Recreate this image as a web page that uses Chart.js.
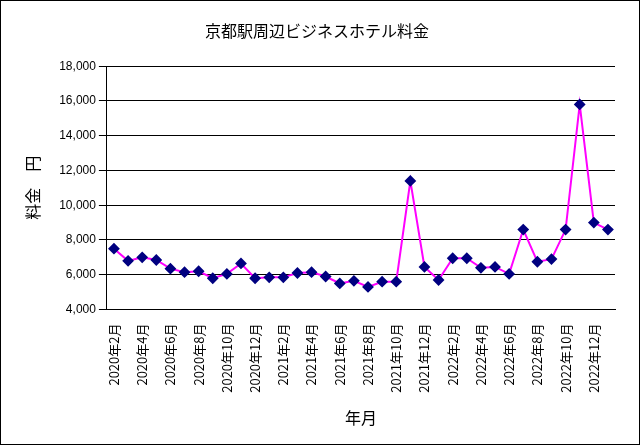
<!DOCTYPE html>
<html><head><meta charset="utf-8">
<script src="https://cdn.jsdelivr.net/npm/chart.js@4"></script>
<style>body{margin:0;background:#fff}#w{position:absolute;left:0;top:0;width:638px;height:443px;border:1px solid #000}</style>
</head><body><div id="w"><canvas id="c" width="638" height="443"></canvas></div>
<script>
const categories=[];
const years=[2020,2021,2022,2023];
for(let y of years)for(let m=1;m<=12;m++){if((y===2020&&m<2)||(y===2023&&m>1))continue;categories.push(y+'年'+m+'月');}
const prices=[7500,6800,7000,6850,6350,6150,6200,5800,6050,6650,5800,5850,5850,6100,6150,5900,5500,5650,5300,5600,5600,11400,6450,5700,6950,6950,6400,6450,6050,8600,6750,6900,8600,15800,9000,8600];
const font="'Noto Sans CJK JP','DejaVu Sans',sans-serif";
new Chart(document.getElementById('c'),{type:'line',
data:{labels:categories,datasets:[{data:prices,borderColor:'#ff00ff',borderWidth:2,tension:0,
pointStyle:'rectRot',pointRadius:4.5,pointBackgroundColor:'#000080',pointBorderColor:'#000080'}]},
options:{responsive:false,animation:false,layout:{padding:{left:18,right:24,top:12,bottom:12}},
plugins:{legend:{display:false},title:{display:true,text:'京都駅周辺ビジネスホテル料金',color:'#000',font:{family:font,size:16,weight:'normal'},padding:{top:8,bottom:26}}},
scales:{
x:{offset:true,grid:{display:false},border:{color:'#000'},
ticks:{autoSkip:false,maxRotation:90,minRotation:90,padding:6,color:'#000',font:{family:font,size:13},
callback:(v,i)=>i%2===0?categories[i]:''},
title:{display:true,text:'年月',color:'#000',font:{family:font,size:16},padding:{top:10}}},
y:{min:4000,max:18000,grid:{color:'#000',drawTicks:true},border:{color:'#000'},
ticks:{stepSize:1000,color:'#000',font:{family:'Liberation Sans',size:12},callback:v=>v.toLocaleString('en-US')},
title:{display:true,text:'料金　円',color:'#000',font:{family:font,size:16},padding:{bottom:14}}}}}});
</script></body></html>
